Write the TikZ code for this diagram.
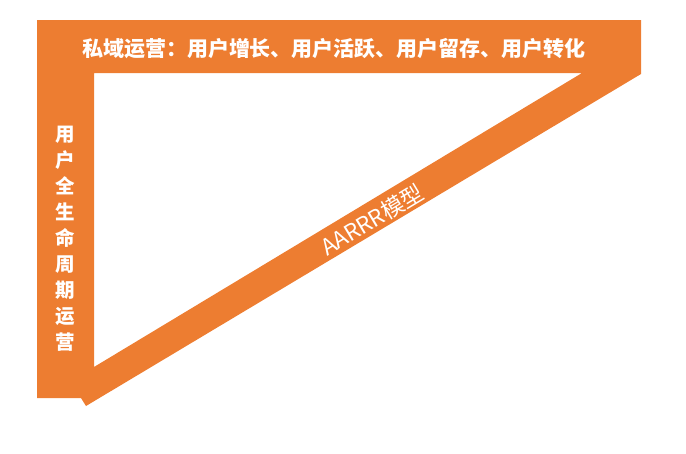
\documentclass[tikz,border=0pt]{standalone}
\usepackage{fontspec}
\newfontfamily\cjk{Noto Sans CJK SC}
\definecolor{bandorange}{HTML}{ED7D31}
\tikzset{
    band/.style = {fill = bandorange, draw = none},
    whitetext/.style = {text = white, inner sep = 0pt},
}

\begin{document}
\begin{tikzpicture}[x = 1pt, y = -1pt]
    \useasboundingbox (0,0) rectangle (686,453);
    % outer corners of the frame
    \coordinate (tl) at (37,20);
    \coordinate (tr) at (641,20);
    \coordinate (trb) at (641,74);
    \coordinate (tip) at (86,406);
    \coordinate (tipl) at (81,398);
    \coordinate (bl) at (37,398);
    % inner white triangle
    \coordinate (itl) at (94,73);
    \coordinate (itr) at (582,73);
    \coordinate (ibl) at (94,367);

    \fill [band, even odd rule] (tl) -- (tr) -- (trb) -- (tip) -- (tipl) -- (bl) -- cycle
        (itl) -- (itr) -- (ibl) -- cycle;

    \node [whitetext, font = \cjk\bfseries\fontsize{21}{24}\selectfont] (top) at (334,49) {私域运营：用户增长、用户活跃、用户留存、用户转化};
    \node [whitetext, align = center, font = \cjk\bfseries\fontsize{19.5}{26}\selectfont] (left) at (65,239) {用\\户\\全\\生\\命\\周\\期\\运\\营};
    \node [whitetext, rotate = 31, font = \cjk\fontsize{22.5}{26}\selectfont] (diag) at (372,220) {AARRR模型};
\end{tikzpicture}
\end{document}
